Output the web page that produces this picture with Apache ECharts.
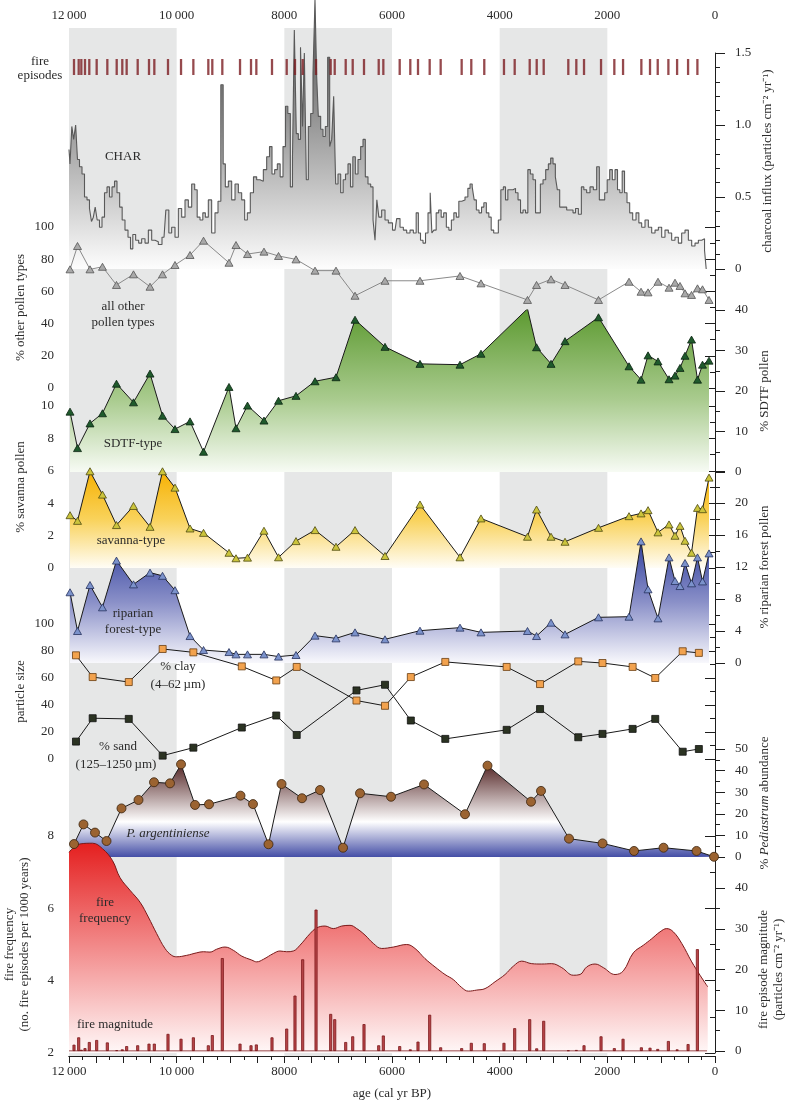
<!DOCTYPE html>
<html lang="en">
<head>
<meta charset="utf-8">
<title>Fire and vegetation record</title>
<script src="https://cdn.jsdelivr.net/npm/echarts@6/dist/echarts.min.js"></script>
<style>
  html, body { margin: 0; background: #fff; }
  #chart { width: 785px; height: 1101px; }
</style>
</head>
<body>
<div id="chart"></div>
<script>
// ages are cal yr BP
var bandStarts = [12000, 8000, 4000]; // shaded 2000-yr bands

var fireEpisodeAge = [11907, 11820, 11771, 11703, 11623, 11486, 11288, 11114, 11010, 10929,
  10724, 10514, 10415, 10161, 9919, 9690, 9412, 9338, 9152, 8823, 8619, 8520, 8229, 7956,
  7802, 7659, 7411, 7139, 7064, 6860, 6730, 6520, 6247, 6161, 5857, 5660, 5517, 5300, 5096,
  4706, 4527, 4286, 3920, 3721, 3442, 3312, 3182, 2725, 2576, 2433, 2117, 1870, 1708, 1368,
  1207, 1064, 866, 704, 500, 327];
var fireMagnitude = [1.55, 3.35, 0.3, 0.7, 2.2, 2.7, 2.1, 0.2, 0.4, 1.2,
  1.4, 1.8, 1.8, 4.2, 3.0, 3.35, 1.4, 3.9, 22.8, 1.8, 1.4, 1.6, 3.35, 5.5,
  13.6, 22.5, 34.7, 9.1, 7.8, 2.2, 3.6, 6.6, 1.4, 3.8, 1.2, 0.4, 2.3, 8.9, 0.9,
  0.7, 2.0, 1.9, 2.0, 5.6, 7.8, 0.65, 7.4, 0.15, 0.25, 1.4, 3.6, 0.7, 3.0, 0.9,
  0.8, 0.5, 2.45, 0.4, 1.7, 25.0];

var charAge = [12000, 11963, 11932, 11895, 11858, 11827, 11783, 11734, 11690, 11641,
  11598, 11567, 11529, 11498, 11455, 11412, 11362, 11319, 11269, 11226,
  11176, 11133, 11084, 11034, 10991, 10929, 10879, 10836, 10793, 10731,
  10681, 10619, 10557, 10495, 10433, 10372, 10310, 10235, 10167, 10124,
  10062, 10000, 9938, 9876, 9814, 9752, 9690, 9641, 9597, 9536,
  9492, 9443, 9381, 9319, 9257, 9207, 9152, 9121, 9071, 9009,
  8947, 8885, 8823, 8762, 8712, 8663, 8601, 8545, 8483, 8421,
  8359, 8297, 8254, 8204, 8155, 8105, 8050, 8000, 7957, 7913,
  7864, 7833, 7796, 7759, 7721, 7678, 7647, 7610, 7573, 7535,
  7486, 7449, 7412, 7387, 7350, 7300, 7263, 7214, 7176, 7139,
  7102, 7065, 7028, 6978, 6929, 6885, 6842, 6793, 6749, 6706,
  6656, 6607, 6557, 6520, 6471, 6421, 6371, 6334, 6297, 6266,
  6223, 6161, 6099, 6037,
  5944, 5882, 5820, 5758, 5696, 5634, 5573, 5529, 5492, 5449,
  5399, 5356, 5306, 5275, 5244, 5201, 5158, 5108, 5065, 5015,
  4966, 4922, 4873, 4829, 4780, 4737, 4675, 4613, 4569, 4532,
  4489, 4458, 4408, 4359, 4315, 4272, 4223, 4179, 4136, 4086,
  4043, 4006, 3950, 3913, 3870, 3826, 3777, 3727, 3684, 3634,
  3591, 3541, 3498, 3455, 3405, 3356, 3312, 3269, 3219, 3170,
  3120, 3071, 3034, 2984, 2947, 2910, 2860, 2786, 2724, 2662,
  2613, 2569, 2507, 2458, 2415, 2353, 2291, 2229, 2167, 2130,
  2074, 2024, 1981, 1932, 1882, 1833, 1789, 1746, 1702, 1659,
  1610, 1560, 1498, 1436, 1393, 1331, 1269, 1207, 1145, 1083,
  1021, 960, 898, 836, 774, 712, 650, 588, 526, 464,
  402, 340, 278, 216, 173, 154];
var charValue = [0.83, 0.73, 0.99, 0.90, 1.00, 0.76, 0.71, 0.66, 0.50, 0.48,
  0.42, 0.33, 0.36, 0.43, 0.34, 0.29, 0.36, 0.53, 0.57, 0.50,
  0.57, 0.61, 0.53, 0.43, 0.34, 0.27, 0.22, 0.14, 0.24, 0.20,
  0.18, 0.21, 0.18, 0.27, 0.20, 0.19, 0.17, 0.22, 0.41, 0.25,
  0.29, 0.22, 0.42, 0.36, 0.48, 0.43, 0.59, 0.55, 0.36, 0.34,
  0.39, 0.36, 0.48, 0.25, 0.39, 0.47, 1.28, 0.73, 0.57, 0.61,
  0.48, 0.59, 0.53, 0.48, 0.34, 0.39, 0.53, 0.64, 0.62, 0.61,
  0.69, 0.78, 0.85, 0.66, 0.69, 0.73, 0.64, 0.85, 1.13, 1.08,
  0.57, 0.78, 1.66, 0.94, 0.90, 1.54, 0.99, 1.50, 0.62, 0.99,
  1.08, 1.36, 1.87, 1.34, 1.06, 0.97, 0.92, 0.99, 1.47, 0.85,
  0.90, 1.20, 0.59, 0.66, 0.53, 0.62, 0.66, 0.73, 0.57, 0.78,
  0.66, 0.76, 0.85, 0.90, 0.64, 0.59, 0.57, 0.34, 0.20, 0.48,
  0.36, 0.41, 0.34, 0.32,
  0.27, 0.35, 0.29, 0.27, 0.25, 0.27, 0.25, 0.39, 0.25, 0.20,
  0.18, 0.25, 0.39, 0.53, 0.25, 0.27, 0.39, 0.41, 0.36, 0.39,
  0.29, 0.27, 0.34, 0.39, 0.36, 0.47, 0.48, 0.50, 0.56, 0.59,
  0.57, 0.48, 0.41, 0.39, 0.43, 0.46, 0.39, 0.36, 0.27, 0.25,
  0.25, 0.34, 0.55, 0.57, 0.48, 0.55, 0.55, 0.56, 0.53, 0.48,
  0.39, 0.41, 0.39, 0.69, 0.66, 0.62, 0.39, 0.39, 0.59, 0.62,
  0.69, 0.73, 0.77, 0.73, 0.64, 0.55, 0.43, 0.43, 0.41, 0.41,
  0.39, 0.42, 0.38, 0.57, 0.55, 0.53, 0.57, 0.55, 0.71, 0.48,
  0.48, 0.53, 0.62, 0.69, 0.62, 0.69, 0.55, 0.53, 0.68, 0.53,
  0.46, 0.39, 0.34, 0.39, 0.32, 0.29, 0.34, 0.29, 0.25, 0.27,
  0.29, 0.22, 0.27, 0.25, 0.20, 0.22, 0.18, 0.25, 0.27, 0.20,
  0.16, 0.18, 0.20, 0.21, 0.13, 0.00];

var pollenAge = [11981, 11842, 11610, 11378, 11118, 10802, 10495, 10263, 10031, 9752,
  9501, 9028, 8898, 8684, 8378, 8108, 7783, 7430, 7040, 6687,
  6130, 5480, 4737, 4347, 3483, 3315, 3046, 2786, 2164, 1597,
  1374, 1244, 1059, 854, 743, 650, 557, 436, 325, 232, 111];
var otherPollen = [73.7, 88.2, 73.7, 75.3, 64, 70.6, 62.9, 70.6, 76.4, 82.6,
  91.5, 77.8, 88.8, 83.2, 84.7, 82, 79.9, 72.9, 72.9, 57.3,
  66.6, 66.6, 69.6, 65, 54.7, 64, 67.5, 64, 54.7, 66,
  59.8, 59.4, 66, 62.3, 65.4, 63.4, 58.8, 57.8, 61.9, 61.3, 54.7];
var sdtfPollen = [14.9, 5.9, 12.0, 14.5, 21.8, 17.2, 24.3, 13.9, 10.6, 12.5,
  5.0, 21.0, 10.8, 16.4, 12.7, 17.6, 18.8, 22.4, 23.4, 37.6,
  30.9, 26.7, 26.5, 29.2, 40.3, 30.8, 26.7, 32.3, 38.2, 26.1,
  22.8, 28.8, 27.3, 22.9, 23.8, 25.7, 28.7, 32.7, 22.8, 26.5, 27.5];
var savannaPollen = [3.26, 2.91, 5.97, 4.53, 2.65, 3.83, 2.54, 5.97, 4.96, 2.44,
  2.17, 0.94, 0.6, 0.64, 2.3, 0.66, 1.66, 2.34, 1.31, 2.34,
  0.74, 3.92, 0.66, 3.06, 1.93, 3.61, 1.93, 1.62, 2.48, 3.2,
  3.37, 3.57, 2.2, 2.69, 1.99, 2.6, 1.68, 0.94, 3.71, 3.63, 5.58];
var riparianPollen = [8.84, 4.0, 9.75, 6.96, 12.8, 9.83, 11.3, 10.9, 9.1, 3.37,
  1.62, 1.37, 1.08, 1.08, 1.08, 0.8, 1.0, 3.42, 3.08, 3.83,
  2.96, 4.04, 4.42, 3.83, 4.0, 3.37, 5.04, 3.58, 5.71, 5.79,
  15.2, 9.21, 5.58, 13.2, 10.25, 9.62, 12.5, 9.96, 13.2, 10.2, 13.7];

var sedAge = [11870, 11560, 10890, 10260, 9690, 8790, 8150, 7770, 6660, 6130,
  5650, 5010, 3870, 3250, 2540, 2090, 1530, 1110, 600, 300];
var clayPct = [76.8, 60.7, 57, 81.5, 79, 68.6, 58.2, 68.2, 43.3, 39.4,
  60.7, 71.9, 68.2, 55.5, 72.3, 71.1, 68.2, 60, 79.8, 78.6];
var sandPct = [12.9, 30.2, 29.7, 2.5, 8.4, 23.3, 32.2, 17.8, 50.8, 55,
  28.5, 14.9, 21.6, 37, 16.1, 18.6, 22.3, 29.7, 5.4, 7.4];

var pedAge = [11907, 11731, 11517, 11303, 11025, 10709, 10421, 10124, 9919, 9659,
  9399, 8814, 8582, 8294, 8052, 7672, 7337, 6910, 6594, 6018,
  5405, 4644, 4226, 3418, 3232, 2712, 2089, 1504, 956, 343, 18];
var pediastrum = [6.0, 15.1, 11.3, 7.4, 22.5, 26.4, 34.6, 34.1, 42.9, 24.1,
  24.4, 28.4, 24.5, 5.9, 33.8, 27.2, 31, 4.3, 29.5, 27.9,
  33.6, 19.8, 42.3, 25.6, 30.6, 8.5, 6.3, 2.8, 4.3, 2.8, 0.1];

var freqAge = [12000, 11796, 11563, 11378, 11192, 11053, 10867, 10681, 10527, 10371,
  10217, 10092, 9999, 9814, 9628, 9505, 9381, 9256, 9102, 8948,
  8792, 8606, 8513, 8390, 8205, 8080, 7956, 7833, 7709, 7523,
  7398, 7244, 7090, 6934, 6780, 6655, 6501, 6347, 6191, 5975,
  5727, 5572, 5387, 5201, 5015, 4861, 4705, 4582, 4426, 4272,
  4086, 3900, 3746, 3590, 3404, 3219, 3033, 2847, 2632, 2507,
  2383, 2228, 2074, 1857, 1703, 1517, 1331, 1175, 1021, 897,
  774, 618, 432, 278, 135];
var fireFrequency = [7.55, 7.78, 7.8, 7.65, 7.32, 6.85, 6.50, 6.17, 5.76, 5.30,
  4.89, 4.70, 4.66, 4.70, 4.77, 4.80, 4.79, 4.87, 4.93, 4.84,
  4.68, 4.57, 4.52, 4.59, 4.75, 4.82, 4.80, 4.82, 4.98, 5.30,
  5.46, 5.51, 5.44, 5.51, 5.53, 5.44, 5.26, 5.03, 4.89, 4.93,
  5.0, 4.89, 4.61, 4.38, 4.17, 4.03, 3.81, 3.71, 3.74, 3.78,
  3.97, 4.17, 4.40, 4.54, 4.47, 4.46, 4.47, 4.36, 4.15, 4.17,
  4.38, 4.46, 4.36, 4.17, 4.27, 4.77, 4.98, 5.16, 5.35, 5.44,
  5.35, 5.03, 4.52, 4.15, 3.83];

var SERIF = '"Liberation Serif", "Times New Roman", serif';
var TXT = '#2b2b2b';
var INK = '#1e1e1e';

function pairs(xs, ys) {
    return xs.map(function (x, i) { return [x, ys[i]]; });
}

function grad(y0, y1, stops) {
    // vertical gradient in page pixels
    return new echarts.graphic.LinearGradient(0, y0, 0, y1, stops.map(function (s) {
        return {offset: s[0], color: s[1]};
    }), true);
}

// panels: [top px, bottom px]
var panels = [[28, 1056], [59, 75], [53, 269], [227, 388], [310, 472], [406, 568],
    [471, 663], [624, 759], [749, 857], [836, 1053], [888, 1051]];

var grids = panels.map(function (p) {
    return {left: 69, right: 70, top: p[0], height: p[1] - p[0], containLabel: false, outerBoundsMode: 'none'};
});

function ageLabel(v) {
    if (v % 2000 !== 0) return '';
    return v >= 10000 ? Math.floor(v / 1000) + '\u2009000' : String(v);
}

function ageAxis(pos) {
    return {
        gridIndex: 0, type: 'value', position: pos, min: 0, max: 12000, inverse: true, interval: 500,
        axisLine: {show: true, lineStyle: {color: INK, width: 1}},
        axisTick: {show: true, inside: pos === 'top', length: 7, lineStyle: {color: INK}},
        minorTick: {show: true, splitNumber: 2, length: 4, lineStyle: {color: INK}},
        splitLine: {show: false},
        axisLabel: {formatter: ageLabel, color: TXT, fontFamily: SERIF, fontSize: 13, margin: pos === 'top' ? 6 : 9},
        name: pos === 'bottom' ? 'age (cal yr BP)' : '',
        nameLocation: 'middle', nameGap: 31,
        nameTextStyle: {color: TXT, fontFamily: SERIF, fontSize: 13}
    };
}

var xAxes = [ageAxis('top'), ageAxis('bottom')];
for (var g = 1; g < panels.length; g++) {
    xAxes.push({gridIndex: g, type: 'value', min: 0, max: 12000, inverse: true, show: false});
}

function valueAxis(g, side, min, max, step, minorSplit, name, gap, fmt) {
    return {
        gridIndex: g, type: 'value', position: side, offset: side === 'left' ? 1 : 4,
        min: min, max: max, interval: step,
        axisLine: {show: true, lineStyle: {color: INK, width: 1}},
        axisTick: {show: true, length: 10, lineStyle: {color: INK}},
        minorTick: {show: true, splitNumber: minorSplit, length: 5, lineStyle: {color: INK}},
        splitLine: {show: false},
        axisLabel: {color: TXT, fontFamily: SERIF, fontSize: 13, margin: side === 'left' ? 14 : 16, formatter: fmt},
        name: name, nameLocation: 'middle', nameRotate: 90, nameGap: gap, nameMoveOverlap: false,
        nameTextStyle: {color: TXT, fontFamily: SERIF, fontSize: 13, lineHeight: 15,
            rich: {i: {fontStyle: 'italic', fontFamily: SERIF, fontSize: 13, color: TXT}}}
    };
}

var yAxes = [
    {gridIndex: 0, show: false, min: 0, max: 1},
    {gridIndex: 1, show: false, min: 0, max: 1},
    valueAxis(2, 'right', 0, 1.5, 0.5, 5, 'charcoal influx (particles cm\u207B\u00B2 yr\u207B\u00B9)', 41,
        function (v) { return v === 0 ? '0' : v.toFixed(1); }),
    valueAxis(3, 'left', 0, 100, 20, 2, '% other pollen types', 40),
    valueAxis(4, 'right', 0, 40, 10, 2, '% SDTF pollen', 38),
    valueAxis(5, 'left', 0, 10, 2, 2, '% savanna pollen', 40),
    valueAxis(6, 'right', 0, 24, 4, 2, '% riparian forest pollen', 38,
        function (v) { return v === 24 ? '' : String(v); }),
    valueAxis(7, 'left', 0, 100, 20, 2, 'particle size', 40),
    valueAxis(8, 'right', 0, 50, 10, 2, '% {i|Pediastrum} abundance', 38),
    valueAxis(9, 'left', 2, 8, 2, 2, 'fire frequency\n(no. fire episodes per 1000 years)', 36),
    valueAxis(10, 'right', 0, 40, 10, 2, 'fire episode magnitude\n(particles cm\u207B\u00B2 yr\u207B\u00B9)', 37)
];

var dark = '#1a1a1a';

var series = [
    {   // shaded age bands behind everything
        type: 'line', xAxisIndex: 0, yAxisIndex: 0, data: [], silent: true, z: 1,
        markArea: {silent: true, itemStyle: {color: '#e6e7e7'},
            data: bandStarts.map(function (s) { return [{xAxis: s}, {xAxis: s - 2000}]; })}
    },
    {
        type: 'scatter', xAxisIndex: 2, yAxisIndex: 1, symbol: 'rect', symbolSize: [2.3, 16],
        itemStyle: {color: '#7c1d22'}, z: 5, silent: true,
        data: fireEpisodeAge.map(function (a) { return [a, 0.5]; })
    },
    {
        type: 'line', xAxisIndex: 3, yAxisIndex: 2, step: 'middle', symbol: 'none', clip: false, z: 2,
        lineStyle: {color: '#595959', width: 1.1},
        areaStyle: {color: grad(60, 269, [[0, '#6c6c6c'], [0.5, '#b4b4b4'], [1, '#fdfdfd']]), opacity: 1},
        data: pairs(charAge, charValue)
    },
    {
        type: 'line', xAxisIndex: 4, yAxisIndex: 3, symbol: 'triangle', symbolSize: [8, 7], z: 4,
        lineStyle: {color: '#8a8a8a', width: 1},
        itemStyle: {color: '#a9a9a9', borderColor: '#555', borderWidth: 0.8},
        data: pairs(pollenAge, otherPollen)
    },
    {
        type: 'line', xAxisIndex: 5, yAxisIndex: 4, symbol: 'triangle', symbolSize: [8, 7], z: 2,
        lineStyle: {color: dark, width: 1},
        itemStyle: {color: '#1f5a2c', borderColor: '#0b2412', borderWidth: 0.8},
        areaStyle: {color: grad(310, 472, [[0, '#5d9a31'], [0.55, '#a9cb8e'], [1, '#f7fbf4']]), opacity: 1},
        data: pairs(pollenAge, sdtfPollen)
    },
    {
        type: 'line', xAxisIndex: 6, yAxisIndex: 5, symbol: 'triangle', symbolSize: [8, 7], z: 2,
        lineStyle: {color: dark, width: 1},
        itemStyle: {color: '#cbc43c', borderColor: '#4e4a10', borderWidth: 0.8},
        areaStyle: {color: grad(470, 568, [[0, '#f6b000'], [0.5, '#f9d25a'], [1, '#fffdf6']]), opacity: 1},
        data: pairs(pollenAge, savannaPollen)
    },
    {
        type: 'line', xAxisIndex: 7, yAxisIndex: 6, symbol: 'triangle', symbolSize: [8, 7], z: 3,
        lineStyle: {color: dark, width: 1},
        itemStyle: {color: '#7b92cb', borderColor: '#27325e', borderWidth: 0.8},
        areaStyle: {color: grad(541, 663, [[0, '#33429f'], [0.5, '#8a90c8'], [1, '#f8f8fc']]), opacity: 1},
        data: pairs(pollenAge, riparianPollen)
    },
    {
        type: 'line', xAxisIndex: 8, yAxisIndex: 7, symbol: 'rect', symbolSize: 7, z: 4,
        lineStyle: {color: dark, width: 1},
        itemStyle: {color: '#f2a24e', borderColor: '#6a3e10', borderWidth: 0.8},
        data: pairs(sedAge, clayPct)
    },
    {
        type: 'line', xAxisIndex: 8, yAxisIndex: 7, symbol: 'rect', symbolSize: 7, z: 4,
        lineStyle: {color: dark, width: 1},
        itemStyle: {color: '#2b3322', borderColor: '#111', borderWidth: 0.8},
        data: pairs(sedAge, sandPct)
    },
    {   // Pediastrum fill only
        type: 'line', xAxisIndex: 9, yAxisIndex: 8, symbol: 'none', z: 2, silent: true,
        lineStyle: {width: 0, opacity: 0},
        areaStyle: {color: grad(762, 857, [[0, '#4d1d1d'], [0.63, '#ffffff'], [1, '#444ea6']]), opacity: 1},
        data: pairs(pedAge, pediastrum)
    },
    {
        type: 'line', xAxisIndex: 10, yAxisIndex: 9, symbol: 'none', smooth: 0.4, z: 3,
        lineStyle: {color: '#7a1a1a', width: 1},
        areaStyle: {origin: 'start', color: grad(840, 1053, [[0, '#e41c1c'], [0.5, '#f28a8a'], [1, '#fff8f8']]), opacity: 1},
        data: pairs(freqAge, fireFrequency)
    },
    {   // Pediastrum line and markers on top of the fire frequency fill
        type: 'line', xAxisIndex: 9, yAxisIndex: 8, symbol: 'circle', symbolSize: 9, z: 5,
        lineStyle: {color: dark, width: 1},
        itemStyle: {color: '#9b6331', borderColor: '#3a230e', borderWidth: 0.8},
        data: pairs(pedAge, pediastrum)
    },
    {
        type: 'bar', xAxisIndex: 11, yAxisIndex: 10, barWidth: 3, z: 6,
        itemStyle: {color: '#b9474a', borderColor: '#7a1518', borderWidth: 0.8},
        data: pairs(fireEpisodeAge, fireMagnitude)
    },
    {
        type: 'line', xAxisIndex: 11, yAxisIndex: 10, symbol: 'none', z: 6, silent: true,
        lineStyle: {color: '#7a1518', width: 1.2},
        data: [[12000, 0], [150, 0]]
    }
];

function label(x, y, text, extra) {
    var style = {text: text, x: 0, y: 0, fill: TXT, font: '13px ' + SERIF, align: 'center', verticalAlign: 'middle'};
    if (extra) for (var k in extra) style[k] = extra[k];
    return {type: 'text', x: x, y: y, z: 100, silent: true, style: style};
}

var texts = [
    label(40, 62, 'fire'), label(40, 76, 'episodes'),
    label(123, 157, 'CHAR'),
    label(123, 307, 'all other'), label(123, 323, 'pollen types'),
    label(133, 444, 'SDTF-type'),
    label(131, 541, 'savanna-type'),
    label(133, 614, 'riparian'), label(133, 630, 'forest-type'),
    label(178, 667, '% clay'), label(178, 685, '(4\u201362\u2009\u00B5m)'),
    label(118, 747, '% sand'), label(116, 765, '(125\u20131250\u2009\u00B5m)'),
    label(168, 834, 'P. argentiniense', {font: 'italic 13px ' + SERIF}),
    label(105, 903, 'fire'), label(105, 919, 'frequency'),
    label(115, 1025, 'fire magnitude')
];

var chart = echarts.init(document.getElementById('chart'), null, {renderer: 'canvas'});
chart.setOption({
    animation: false,
    backgroundColor: '#ffffff',
    textStyle: {fontFamily: SERIF},
    grid: grids,
    xAxis: xAxes,
    yAxis: yAxes,
    series: series,
    graphic: texts
});
</script>
</body>
</html>
